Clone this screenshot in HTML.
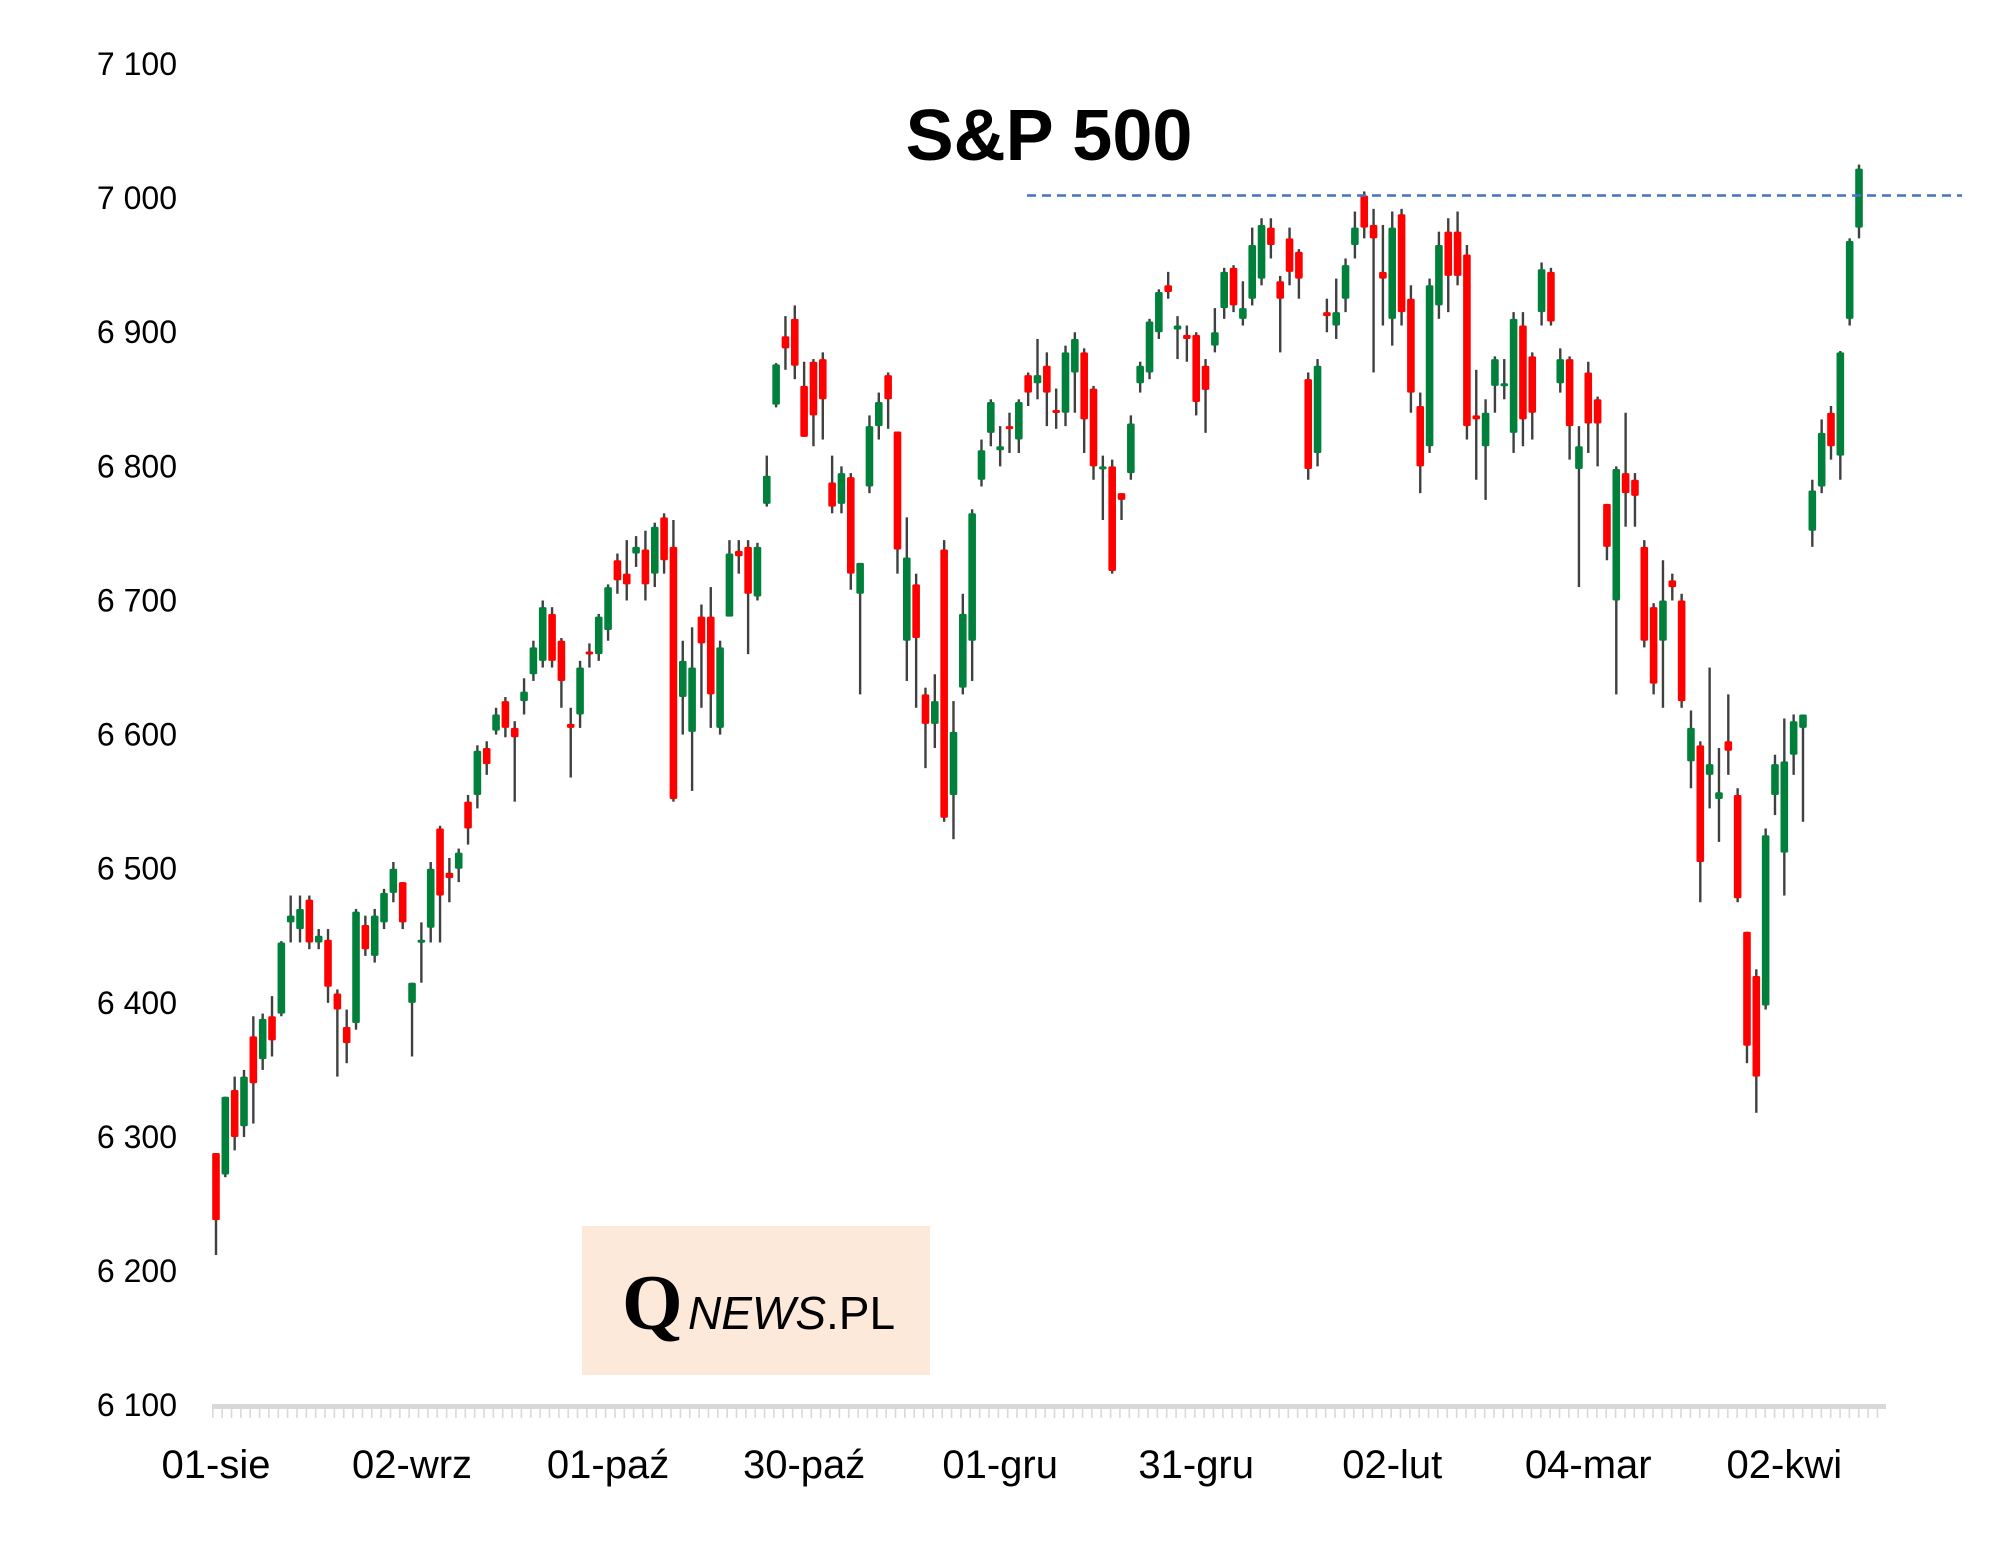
<!DOCTYPE html>
<html><head><meta charset="utf-8"><style>
html,body{margin:0;padding:0;background:#fff;}
svg{display:block;}
</style></head><body>
<svg id="chart" width="2013" height="1549" viewBox="0 0 2013 1549" xmlns="http://www.w3.org/2000/svg">
<rect x="582" y="1226" width="348" height="149" fill="#fce9da"/>
<text x="622" y="1329" font-family="Liberation Serif, serif" font-weight="bold" font-size="78" fill="#000">Q</text>
<text x="688" y="1329" font-family="Liberation Sans, sans-serif" font-size="46" fill="#000"><tspan font-style="italic">NEWS</tspan>.PL</text>
<text x="1049" y="160" text-anchor="middle" font-family="Liberation Sans, sans-serif" font-weight="bold" font-size="72" fill="#000">S&amp;P 500</text>
<g id="yaxis"></g><g id="xaxis"></g><g id="candles"></g>
<line id="resline" stroke="#4472c4" stroke-width="2.5" stroke-dasharray="9,6"/>
</svg>
<script>
const yTicks=[6100,6200,6300,6400,6500,6600,6700,6800,6900,7000,7100];
const yTickLabels=["6 100","6 200","6 300","6 400","6 500","6 600","6 700","6 800","6 900","7 000","7 100"];
const xLabelIdx=[0,21,42,63,84,105,126,147,168];
const xLabels=["01-sie","02-wrz","01-paź","30-paź","01-gru","31-gru","02-lut","04-mar","02-kwi"];
const resistanceLevel=7002;
const opens=[6288,6272,6335,6308,6375,6358,6390,6392,6460,6455,6477,6445,6447,6407,6382,6385,6458,6435,6460,6482,6490,6400,6445,6456,6530,6497,6500,6550,6555,6590,6603,6625,6605,6625,6645,6655,6690,6670,6608,6615,6662,6660,6678,6730,6720,6735,6738,6720,6762,6740,6628,6602,6688,6688,6605,6688,6737,6740,6703,
6772,6846,6897,6910,6860,6878,6880,6788,6772,6792,6705,6785,6830,6868,6826,6670,6712,6630,6608,6738,6555,6635,6670,6790,6825,6812,6830,6820,6868,6862,6875,6842,6840,6870,6885,6858,6798,6800,6780,6795,6862,6870,6900,6935,6902,6898,6898,6875,6890,6918,6948,6910,6925,6940,6978,6938,6970,6960,6865,6810,6915,6905,6925,6965,7002,6980,6945,6910,6988,6925,6845,6815,6920,6975,6975,6958,6838,6815,6860,6860,6825,6905,6882,6915,6945,6862,6880,6798,6870,6850,6772,6700,6795,6790,6740,6695,6670,6715,6700,6580,6592,6570,6552,6595,6555,6453,6420,6398,6555,6512,6585,6605,6752,6785,6840,6808,6910,6978];
const highs=[6288,6330,6345,6350,6390,6392,6405,6446,6480,6480,6480,6455,6455,6410,6395,6470,6465,6470,6485,6505,6490,6415,6460,6505,6532,6508,6515,6555,6592,6595,6620,6628,6610,6642,6670,6700,6695,6672,6620,6655,6668,6690,6712,6735,6745,6748,6752,6758,6765,6760,6670,6680,6697,6710,6670,6745,6745,6745,6743,
6808,6877,6912,6920,6878,6880,6885,6808,6800,6795,6728,6838,6855,6870,6826,6762,6720,6635,6645,6745,6625,6705,6768,6820,6850,6830,6840,6850,6870,6895,6885,6858,6890,6900,6888,6860,6808,6805,6780,6838,6878,6910,6932,6945,6912,6905,6900,6880,6918,6948,6950,6938,6978,6985,6985,6942,6978,6962,6870,6880,6925,6940,6955,6990,7005,6992,6980,6990,6992,6935,6855,6940,6975,6985,6990,6965,6872,6850,6882,6880,6915,6915,6885,6952,6948,6888,6882,6830,6878,6852,6772,6800,6840,6795,6745,6698,6730,6720,6705,6618,6595,6650,6590,6630,6560,6453,6425,6530,6585,6612,6615,6615,6790,6835,6845,6886,6970,7025];
const lows=[6212,6270,6290,6300,6310,6350,6360,6390,6445,6445,6440,6440,6400,6345,6355,6380,6435,6430,6455,6475,6455,6360,6415,6445,6445,6475,6490,6518,6545,6570,6600,6598,6550,6615,6640,6650,6650,6620,6568,6605,6650,6655,6670,6705,6700,6725,6700,6710,6720,6550,6600,6558,6620,6605,6600,6690,6720,6660,6700,
6770,6844,6872,6865,6822,6815,6820,6765,6765,6708,6630,6780,6820,6828,6720,6640,6620,6575,6590,6535,6522,6630,6640,6785,6815,6800,6810,6810,6845,6850,6830,6828,6830,6840,6810,6790,6760,6720,6760,6790,6855,6865,6895,6925,6880,6878,6838,6825,6885,6910,6915,6905,6920,6935,6955,6885,6935,6925,6790,6800,6900,6895,6915,6955,6970,6870,6905,6890,6905,6840,6780,6810,6910,6915,6935,6820,6790,6775,6840,6850,6810,6815,6820,6905,6905,6855,6805,6710,6810,6800,6730,6630,6755,6755,6665,6630,6620,6700,6620,6560,6475,6545,6520,6570,6475,6355,6318,6395,6540,6480,6570,6535,6740,6780,6805,6790,6905,6970];
const closes=[6238,6330,6300,6345,6340,6388,6372,6445,6465,6470,6445,6450,6412,6395,6370,6468,6440,6465,6482,6500,6460,6415,6447,6500,6480,6493,6512,6530,6588,6578,6615,6605,6598,6632,6665,6695,6655,6640,6605,6650,6660,6688,6710,6715,6712,6740,6712,6755,6730,6552,6655,6650,6668,6630,6665,6735,6733,6705,6740,
6793,6876,6888,6875,6822,6838,6850,6770,6795,6720,6728,6830,6848,6850,6738,6732,6672,6608,6625,6538,6602,6690,6765,6812,6848,6815,6828,6848,6855,6868,6855,6840,6885,6895,6835,6800,6800,6722,6775,6832,6875,6908,6930,6930,6905,6895,6848,6857,6900,6945,6920,6918,6965,6980,6965,6925,6945,6940,6798,6875,6912,6915,6950,6978,6978,6970,6940,6978,6915,6855,6800,6935,6965,6942,6942,6830,6835,6840,6880,6862,6910,6835,6840,6947,6908,6880,6830,6815,6832,6832,6740,6798,6780,6778,6670,6638,6700,6710,6625,6605,6505,6578,6557,6588,6478,6368,6345,6525,6578,6580,6610,6615,6782,6825,6815,6885,6968,7022];

const NS="http://www.w3.org/2000/svg";
const svg=document.getElementById('chart');
const X0=216,X1=1859,Y0=64,YK=1.3412;
function yScale(v){return Y0+(7100-v)*YK;}
function xScale(i){return X0+i*(X1-X0)/(opens.length-1);}
function mk(tag,attrs,parent){const e=document.createElementNS(NS,tag);for(const k in attrs)e.setAttribute(k,attrs[k]);parent.appendChild(e);return e;}

const ya=document.getElementById('yaxis');
yTicks.forEach((v,i)=>{
  const t=mk('text',{x:177,y:yScale(v)+11,'text-anchor':'end','font-family':'Liberation Sans, sans-serif','font-size':32,fill:'#000'},ya);
  t.textContent=yTickLabels[i];
  
  
});
const xa=document.getElementById('xaxis');
const axisLine=mk('rect',{x:212,y:1404,width:1674,height:5,fill:'#d9d9d9'},xa);


for(let i=0;i<=opens.length+1;i++){
  const tx=212+i*(1674/(opens.length+2));
  const tk=mk('rect',{x:tx,y:1406,width:1.6,height:12,fill:'#d9d9d9'},xa);
  
  
}
xLabelIdx.forEach((idx,i)=>{
  const t=mk('text',{x:xScale(idx),y:1478,'text-anchor':'middle','font-family':'Liberation Sans, sans-serif','font-size':40,fill:'#000'},xa);
  t.textContent=xLabels[i];
  
  
});
const cg=document.getElementById('candles');
for(let i=0;i<opens.length;i++){
  const x=xScale(i),o=opens[i],c=closes[i],h=highs[i],l=lows[i];
  const g=mk('g',{},cg);
  
  
  const w=mk('rect',{x:x-1.2,y:yScale(h),width:2.4,height:Math.max(1,yScale(l)-yScale(h)),fill:'#404040'},g);
  
  
  const top=yScale(Math.max(o,c)),bot=yScale(Math.min(o,c));
  const b=mk('rect',{x:x-3.8,y:top,width:7.6,height:Math.max(3,bot-top),rx:1.5,fill:c>=o?'#00803a':'#ff0000'},g);
  
  
}
const rl=document.getElementById('resline');
rl.setAttribute('x1',1027);rl.setAttribute('x2',1962);
rl.setAttribute('y1',yScale(resistanceLevel));rl.setAttribute('y2',yScale(resistanceLevel));
</script>
</body></html>
